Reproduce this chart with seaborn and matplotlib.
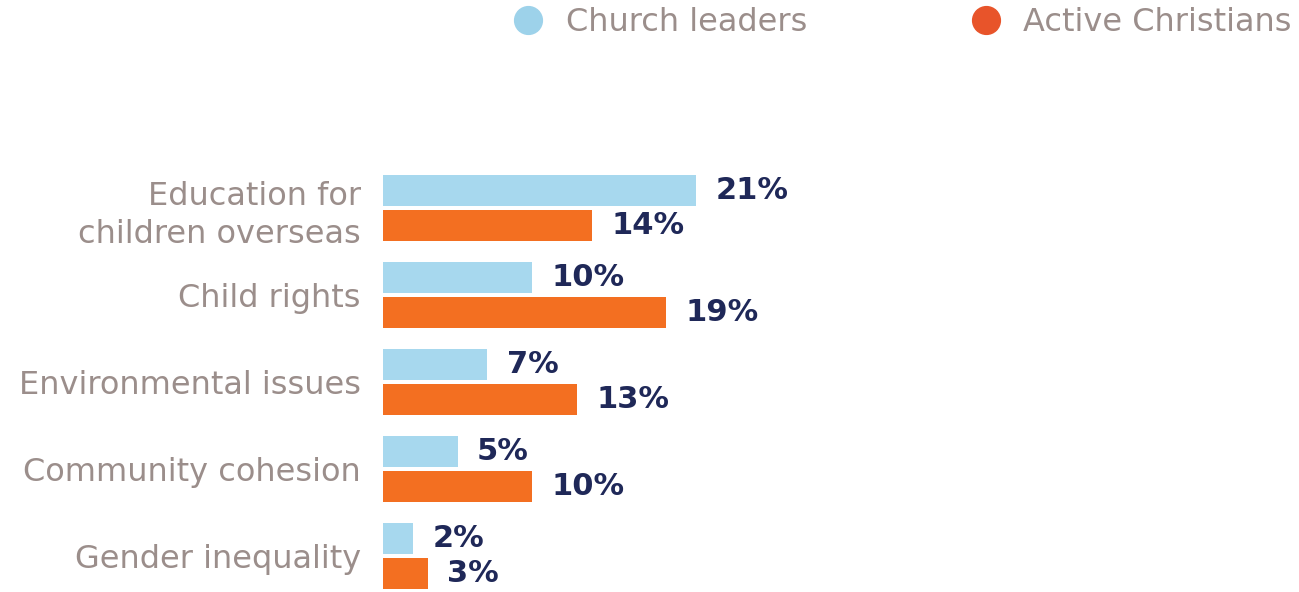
import pandas as pd
import matplotlib
matplotlib.use("Agg")
import matplotlib.pyplot as plt
import seaborn as sns
from matplotlib.lines import Line2D

# data
issues = ['Education for\nchildren overseas', 'Child rights', 'Environmental issues',
          'Community cohesion', 'Gender inequality']
church_leaders = [21, 10, 7, 5, 2]
active_christians = [14, 19, 13, 10, 3]
groups = ['Church leaders', 'Active Christians']

bar_colors = {'Church leaders': '#a7d8ee', 'Active Christians': '#f36f21'}
legend_colors = ['#9dd2ea', '#e8542a']
label_grey = '#9b8e8b'
value_navy = '#1f2858'

df = pd.DataFrame({
    'Issue': issues * 2,
    'Group': [groups[0]] * len(issues) + [groups[1]] * len(issues),
    'Percent': church_leaders + active_christians,
})

sns.set_style('white')
plt.rcParams['font.family'] = ['DejaVu Sans']

fig = plt.figure(figsize=(12.99, 5.92), dpi=100)
ax = fig.add_axes([383 / 1299, 0, 916 / 1299, 422 / 592])

sns.barplot(data=df, y='Issue', x='Percent', hue='Group', palette=bar_colors,
            width=0.8, gap=0.1, orient='h', ax=ax, legend=False, saturation=1,
            linewidth=0)

# value labels next to each bar
for cont in ax.containers:
    ax.bar_label(cont, labels=[f'{v:.0f}%' for v in cont.datavalues], padding=14,
                 fontsize=22, color=value_navy, fontweight='bold')

ax.set_xlim(0, 916 / 14.9)
ax.set_ylim(4.414, -0.437)
ax.set_xlabel('')
ax.set_ylabel('')
ax.set_xticks([])
ax.tick_params(axis='y', length=0, pad=16, labelsize=23, labelcolor=label_grey)
for lbl in ax.get_yticklabels():
    lbl.set_multialignment('right')
    lbl.set_linespacing(1.3)
sns.despine(ax=ax, left=True, bottom=True)

handles = [Line2D([], [], marker='o', linestyle='', markersize=20,
                  markerfacecolor=c, markeredgecolor=c) for c in legend_colors]
leg = fig.legend(handles, groups, loc='upper right',
                 bbox_to_anchor=(1 - 4 / 1299, 1 - 4 / 592),
                 ncol=2, frameon=False, fontsize=23, columnspacing=4.6,
                 handlelength=2, handletextpad=0.17, borderaxespad=0, borderpad=0.1)
for t in leg.get_texts():
    t.set_color(label_grey)

fig.savefig('out.png', dpi=100)
